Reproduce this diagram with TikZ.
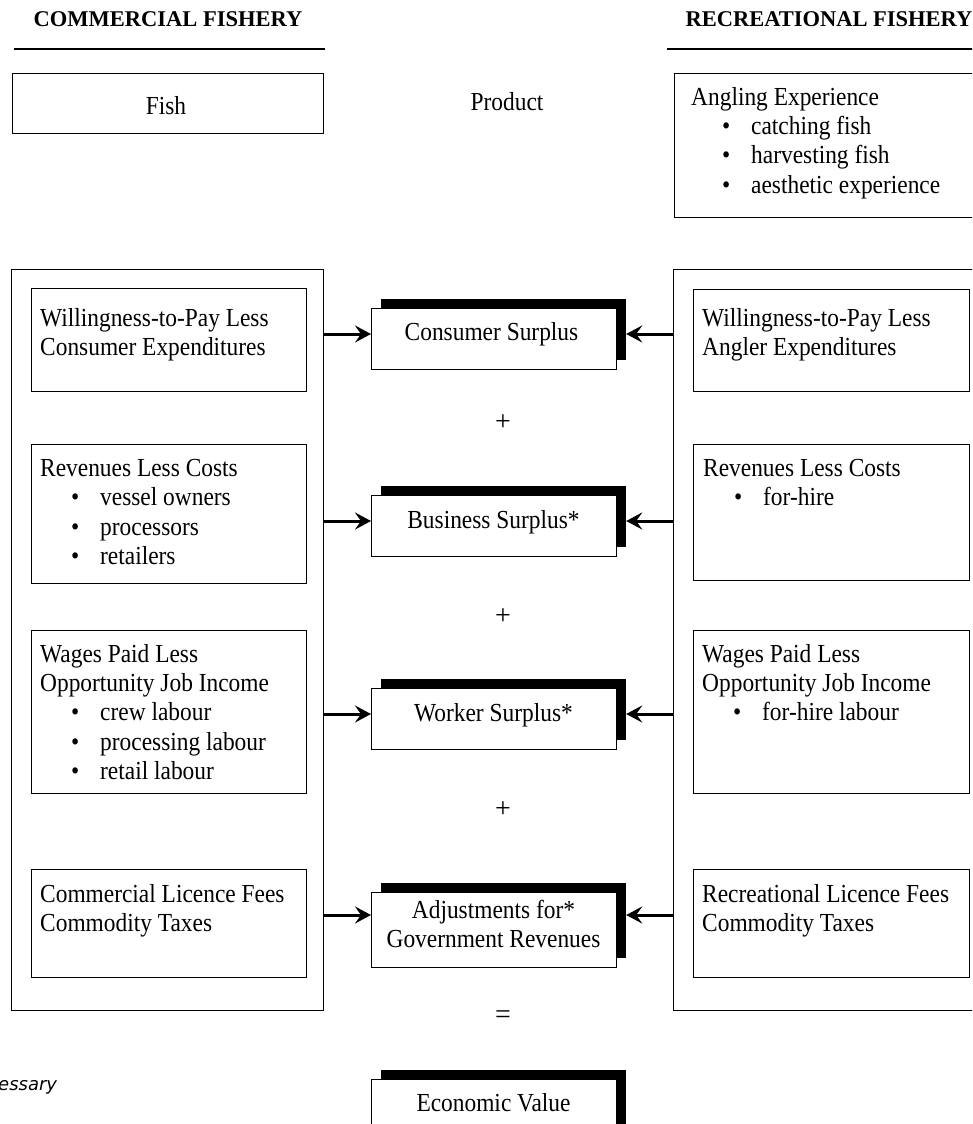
\documentclass[tikz,border=0pt]{standalone}
\usepackage{fontspec}
\setmainfont{Liberation Serif}
\newfontfamily\bodyfont[FakeStretch=0.9]{Liberation Serif}
\newfontfamily\notefont{DejaVu Sans}
\usetikzlibrary{arrows.meta,shadows}
\newcommand{\myitem}[1]{\hspace*{31pt}\makebox[29pt][l]{\textbullet}#1}
\begin{document}
\begin{tikzpicture}[x=1pt,y=-1pt,
  box/.style={draw, line width=1.2pt, inner sep=0pt, anchor=north west},
  txt/.style={inner sep=0pt, anchor=north west, align=left, font=\bodyfont\fontsize{26}{29.3}\selectfont},
  ctxt/.style={inner sep=0pt, anchor=base, align=center, font=\bodyfont\fontsize{26}{29}\selectfont},
  hdr/.style={inner sep=0pt, anchor=base, font=\fontsize{22.5}{25}\selectfont\bfseries},
  sbox/.style={box, fill=white, drop shadow={shadow xshift=9pt, shadow yshift=10pt, fill=black, opacity=1}},
  arr/.style={line width=3pt, -{Stealth[length=16pt,width=17pt,inset=6pt]}},
  op/.style={inner sep=0pt, font=\fontsize{28}{28}\selectfont}
]
\useasboundingbox (0,0) rectangle (972,1124);
\clip (0,0) rectangle (972,1124);

% headers
\node[hdr] (hl) at (168,27) {COMMERCIAL FISHERY};
\node[hdr] (hr) at (829,27) {RECREATIONAL FISHERY};
\draw[line width=2pt] (14,49) -- (325,49);
\draw[line width=2pt] (667,49) -- (990,49);

% product row
\node[box, minimum width=311pt, minimum height=60pt] (fish) at (12,73) {};
\node[ctxt] (fisht) at (166,114) {Fish};
\node[ctxt] (prod) at (507,110) {Product};
\node[box, minimum width=320pt, minimum height=144pt] (angl) at (674,73) {};
\node[txt] (anglt) at (691,87) {Angling Experience\\ \myitem{catching fish}\\ \myitem{harvesting fish}\\ \myitem{aesthetic experience}};

% outer boxes
\node[box, minimum width=312pt, minimum height=741pt] (Lout) at (11,269) {};
\node[box, minimum width=330pt, minimum height=741pt] (Rout) at (673,269) {};

% left inner boxes
\node[box, minimum width=275pt, minimum height=103pt] (L1) at (31,288) {};
\node[txt] (L1t) at (40,308) {Willingness-to-Pay Less\\Consumer Expenditures};
\node[box, minimum width=275pt, minimum height=139pt] (L2) at (31,444) {};
\node[txt] (L2t) at (40,459) {Revenues Less Costs\\ \myitem{vessel owners}\\ \myitem{processors}\\ \myitem{retailers}};
\node[box, minimum width=275pt, minimum height=163pt] (L3) at (31,630) {};
\node[txt] (L3t) at (40,644) {Wages Paid Less\\Opportunity Job Income\\ \myitem{crew labour}\\ \myitem{processing labour}\\ \myitem{retail labour}};
\node[box, minimum width=275pt, minimum height=108pt] (L4) at (31,869) {};
\node[txt] (L4t) at (40,884) {Commercial Licence Fees\\Commodity Taxes};

% right inner boxes
\node[box, minimum width=276pt, minimum height=102pt] (R1) at (693,289) {};
\node[txt] (R1t) at (702,308) {Willingness-to-Pay Less\\Angler Expenditures};
\node[box, minimum width=276pt, minimum height=136pt] (R2) at (693,444) {};
\node[txt] (R2t) at (703,459) {Revenues Less Costs\\ \myitem{for-hire}};
\node[box, minimum width=276pt, minimum height=163pt] (R3) at (693,630) {};
\node[txt] (R3t) at (702,644) {Wages Paid Less\\Opportunity Job Income\\ \myitem{for-hire labour}};
\node[box, minimum width=276pt, minimum height=108pt] (R4) at (693,869) {};
\node[txt] (R4t) at (702,884) {Recreational Licence Fees\\Commodity Taxes};

% center boxes
\node[sbox, minimum width=245pt, minimum height=61pt] (CS) at (371,308) {};
\node[ctxt] (CSt) at (491.5,340) {Consumer Surplus};
\node[sbox, minimum width=245pt, minimum height=61pt] (BS) at (371,495) {};
\node[ctxt] (BSt) at (493.5,528) {Business Surplus*};
\node[sbox, minimum width=245pt, minimum height=61pt] (WS) at (371,688) {};
\node[ctxt] (WSt) at (493.5,721) {Worker Surplus*};
\node[sbox, minimum width=245pt, minimum height=75pt] (AG) at (371,892) {};
\node[ctxt] (AGt) at (493.5,947) {Adjustments for*\\Government Revenues};
\node[sbox, minimum width=245pt, minimum height=70pt] (EV) at (371,1079) {};
\node[ctxt] (EVt) at (493.5,1111) {Economic Value};

% operators
\node[op] (p1) at (503,423) {+};
\node[op] (p2) at (503,617) {+};
\node[op] (p3) at (503,810) {+};
\node[op] (eq) at (503,1017) {=};

% note
\node[inner sep=0pt, anchor=base west, font=\notefont\itshape\fontsize{18}{20}\selectfont] (note) at (-2,1090) {essary};

% arrows
\coordinate (yCS) at (0,334);
\coordinate (yBS) at (0,521);
\coordinate (yWS) at (0,714);
\coordinate (yAG) at (0,915);
\foreach \b in {CS,BS,WS,AG}{
  \coordinate (\b r) at ([xshift=9pt]\b.east);
  \draw[arr] (Lout.east |- y\b) -- (\b.west |- y\b);
  \draw[arr] (Rout.west |- y\b) -- (\b r |- y\b);
}
\end{tikzpicture}
\end{document}
